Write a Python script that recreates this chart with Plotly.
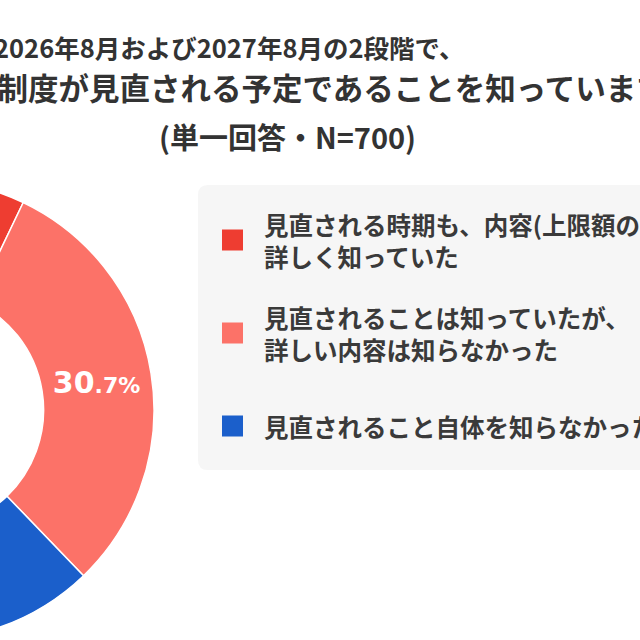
import plotly.graph_objects as go

# ---- data ----
labels = [
    "見直される時期も、内容(上限額の引き上げ)も詳しく知っていた",
    "見直されることは知っていたが、詳しい内容は知らなかった",
    "見直されること自体を知らなかった",
]
legend_lines = [
    ["見直される時期も、内容(上限額の引き上げ)も", "詳しく知っていた"],
    ["見直されることは知っていたが、", "詳しい内容は知らなかった"],
    ["見直されること自体を知らなかった"],
]
values = [7.1, 30.7, 62.2]
colors = ["#EE3D31", "#FC7268", "#1B5FCB"]
title_lines = [
    "2026年8月および2027年8月の2段階で、",
    "高額療養費制度が見直される予定であることを知っていますか？",
    "(単一回答・N=700)",
]

# ---- geometry (page is a 640px window onto a wider figure) ----
SHIFT = 320
FW, FH = 960, 640


def px(x):
    return (x + SHIFT) / FW


def py(y):
    return 1 - y / FH


cx, cy, R = -76, 410, 230

texts = []
for v in values:
    ip, dp = f"{v:.1f}".split(".")
    texts.append(f"<b>{ip}<span style='font-size:22px'>.{dp}%</span></b>")

fig = go.Figure()
fig.add_trace(go.Pie(
    labels=labels,
    values=values,
    text=texts,
    textinfo="text",
    hole=0.52,
    sort=False,
    direction="clockwise",
    rotation=0,
    marker=dict(colors=colors, line=dict(color="white", width=1.5)),
    textposition="inside",
    insidetextorientation="horizontal",
    insidetextfont=dict(color="white", size=30, family="DejaVu Sans"),
    domain=dict(x=[px(cx - R), px(cx + R)], y=[py(cy + R), py(cy - R)]),
    showlegend=False,
))

shapes = []
annotations = []

# legend panel with rounded corners
x0, x1, y0, y1, r = px(198), px(660), py(185), py(470), 10
rx, ry = r / FW, r / FH
shapes.append(dict(
    type="path", xref="paper", yref="paper",
    path=(f"M{x0+rx},{y0} L{x1-rx},{y0} Q{x1},{y0} {x1},{y0-ry} "
          f"L{x1},{y1+ry} Q{x1},{y1} {x1-rx},{y1} L{x0+rx},{y1} "
          f"Q{x0},{y1} {x0},{y1+ry} L{x0},{y0-ry} Q{x0},{y0} {x0+rx},{y0} Z"),
    fillcolor="#F6F6F6", line=dict(width=0), layer="below",
))

item_centers = [240, 333, 426]
for lines, col, yc in zip(legend_lines, colors, item_centers):
    shapes.append(dict(
        type="rect", xref="paper", yref="paper",
        x0=px(222), x1=px(243), y0=py(yc - 10.5), y1=py(yc + 10.5),
        fillcolor=col, line=dict(width=0),
    ))
    annotations.append(dict(
        text="<br>".join(lines), x=px(262), y=py(yc), xref="paper", yref="paper",
        xanchor="left", yanchor="middle", align="left", showarrow=False,
        font=dict(size=24.5, color="#3A3A3A", family="Noto Sans CJK JP", weight="bold"),
    ))

# title lines
annotations.append(dict(
    text=title_lines[0], x=px(466), y=py(46), xref="paper", yref="paper",
    xanchor="right", yanchor="middle", showarrow=False,
    font=dict(size=25.5, color="#333333", family="Noto Sans CJK JP", weight="bold"),
))
annotations.append(dict(
    text=title_lines[1], x=px(-157), y=py(87), xref="paper", yref="paper",
    xanchor="left", yanchor="middle", showarrow=False,
    font=dict(size=30.5, color="#333333", family="Noto Sans CJK JP", weight="bold"),
))
annotations.append(dict(
    text=title_lines[2], x=px(287), y=py(136), xref="paper", yref="paper",
    xanchor="center", yanchor="middle", showarrow=False,
    font=dict(size=29, color="#333333", family="Noto Sans CJK JP", weight="bold"),
))

fig.update_layout(
    width=FW, height=FH,
    margin=dict(l=0, r=0, t=0, b=0),
    paper_bgcolor="white", plot_bgcolor="white",
    shapes=shapes, annotations=annotations,
    font=dict(family="Noto Sans CJK JP"),
)

post = ("document.body.style.margin='0';document.body.style.overflow='hidden';"
        f"var g=document.getElementById('{{plot_id}}');g.style.marginLeft='-{SHIFT}px';")
fig.write_html("out.html", post_script=post, config={"displayModeBar": False})
